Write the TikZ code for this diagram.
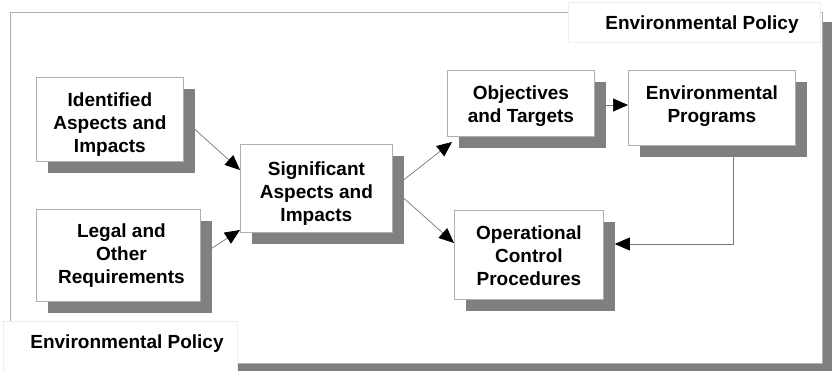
\documentclass[tikz,border=0pt]{standalone}
\usepackage{fontspec}
\setmainfont{Liberation Sans}
\usetikzlibrary{arrows.meta,shadows,calc}
\definecolor{shgray}{RGB}{128,128,128}
\definecolor{edgegray}{RGB}{175,175,175}
\definecolor{linegray}{RGB}{120,120,120}
\definecolor{lblgray}{RGB}{238,238,238}
\pgfdeclarelayer{bg}
\pgfdeclarelayer{conns}
\pgfsetlayers{bg,conns,main}
\begin{document}
\begin{tikzpicture}[x=1pt,y=-1pt,
  txt/.style={font=\fontsize{19}{23}\selectfont\bfseries, align=center},
  box/.style={draw=edgegray, fill=white, line width=0.8pt, inner sep=0pt, anchor=north west,
    drop shadow={shadow xshift=12pt, shadow yshift=-12pt, fill=shgray, opacity=1}},
  lbl/.style={draw=lblgray, fill=white, line width=0.6pt, inner sep=0pt, anchor=north west},
  conn/.style={draw=linegray, line width=0.7pt, -{Triangle[length=15pt,width=13pt,color=black,fill=black]}}
]
\useasboundingbox (0,0) rectangle (836,371);
\begin{pgfonlayer}{bg}
\node[draw=edgegray, fill=white, line width=0.8pt, inner sep=0pt, minimum width=812pt, minimum height=351pt,
  anchor=north west, drop shadow={shadow xshift=10pt, shadow yshift=-10pt, fill=shgray, opacity=1}] (frame) at (10,12) {};
\node[lbl, minimum width=252pt, minimum height=40pt] (toplbl) at (568,2) {};
\node[txt] (toptxt) at (702,25) {Environmental Policy};
\node[lbl, minimum width=234pt, minimum height=56pt] (botlbl) at (3,321) {};
\node[txt] (bottxt) at (127,344) {Environmental Policy};
\end{pgfonlayer}

\node[box, minimum width=147pt, minimum height=84pt] (ident) at (36,77) {};
\node[box, minimum width=164pt, minimum height=92pt] (legal) at (36,209) {};
\node[box, minimum width=152pt, minimum height=88pt] (sig) at (240,144) {};
\node[box, minimum width=147pt, minimum height=66pt] (obj) at (447,70) {};
\node[box, minimum width=167pt, minimum height=75pt] (envp) at (628,70) {};
\node[box, minimum width=149pt, minimum height=89pt] (op) at (454,210) {};

\node[txt, yshift=-5pt] (identtxt) at (ident.center) {Identified\\Aspects and\\Impacts};
\node[txt, xshift=3pt] (legaltxt) at (legal.center) {Legal and\\Other\\Requirements};
\node[txt, yshift=-5pt] (sigtxt) at (sig.center) {Significant\\Aspects and\\Impacts};
\node[txt, yshift=-3pt] (objtxt) at (obj.center) {Objectives\\and Targets};
\node[txt, yshift=1.5pt] (envptxt) at (envp.center) {Environmental\\Programs};
\node[txt, yshift=-1pt] (optxt) at (op.center) {Operational\\Control\\Procedures};

\coordinate (sigin1) at (sig.west |- 0,170);
\coordinate (sigin2) at (sig.west |- 0,230);
\coordinate (objin) at (452,142);
\coordinate (opin) at (op.west |- 0,243);
\coordinate (lineA) at (obj.east |- 0,105);
\coordinate (lineB) at (envp.west |- 0,105);
\coordinate (epout) at (733,140);
\coordinate (corner) at (733,244);
\coordinate (opin2) at ($(op.east |- 0,244)+(11,0)$);

\begin{pgfonlayer}{conns}
\draw[conn] (ident.east) -- (sigin1);
\draw[conn] (legal.east) -- (sigin2);
\draw[conn] (sig.east) -- (objin);
\draw[conn] (sig.east) -- (opin);
\draw[conn] (lineA) -- (lineB);
\draw[conn] (epout) -- (corner) -- (opin2);
\end{pgfonlayer}
\end{tikzpicture}
\end{document}
